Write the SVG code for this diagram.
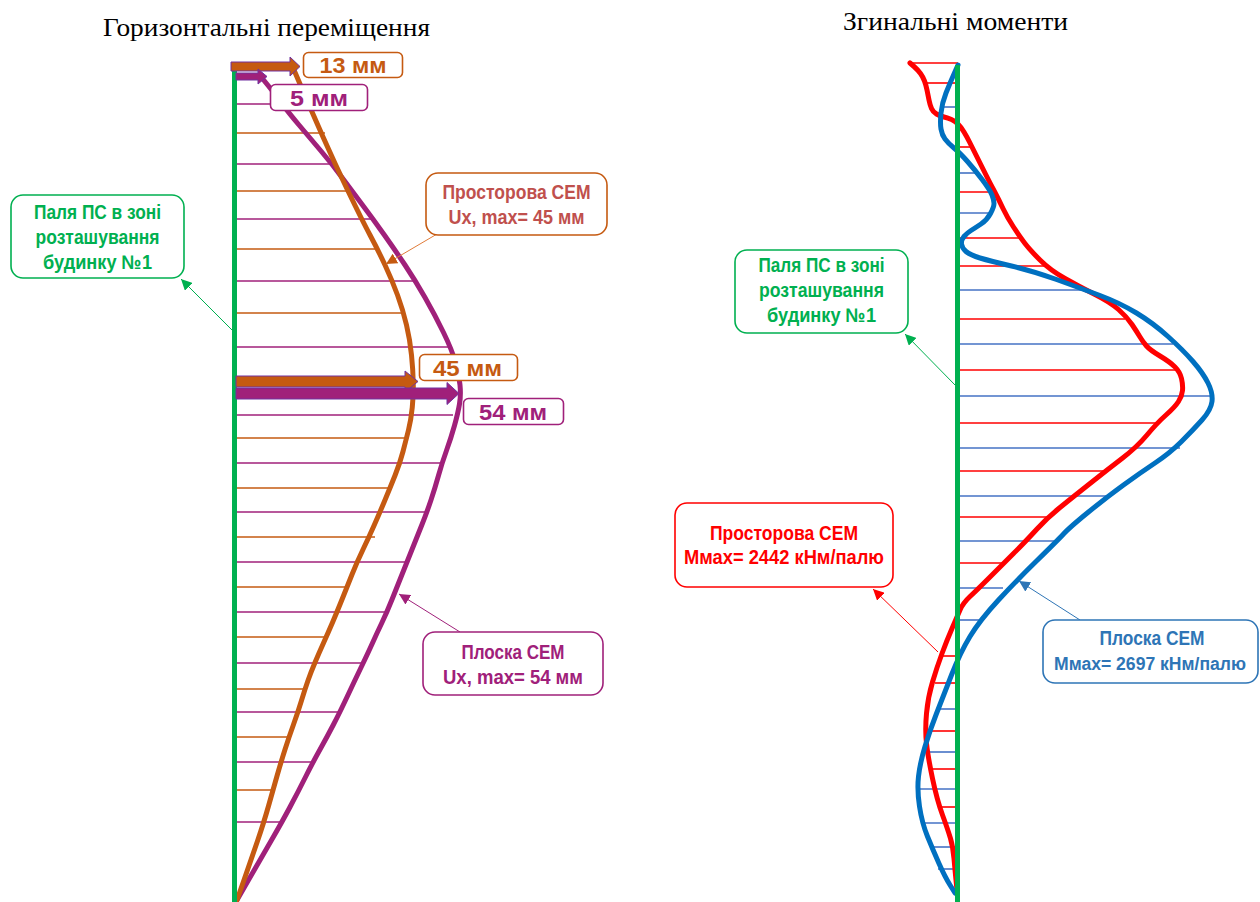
<svg xmlns="http://www.w3.org/2000/svg" width="1260" height="902" viewBox="0 0 1260 902">
<style>
.title{font-family:"Liberation Serif","Times New Roman",serif;font-size:25px;fill:#000}
.lbl{font-family:"Liberation Sans",Arial,sans-serif;font-weight:bold;font-size:19.5px;text-anchor:middle}
.val{font-family:"Liberation Sans",Arial,sans-serif;font-weight:bold;font-size:22px;text-anchor:middle}
.box{fill:#fff;stroke-width:1.6}
.pile{stroke:#00B050;stroke-width:5;fill:none}
.h{stroke-width:1.6;fill:none}
.ho{stroke:#C55A11}
.hp{stroke:#A0207A}
.hr{stroke:#FF0000}
.hb{stroke:#4472C4}
.crv{fill:none;stroke-width:5;stroke-linejoin:round;stroke-linecap:round}
.lead{fill:none;stroke-width:1}
</style>
<defs>
<marker id="aG" viewBox="0 0 10 10" refX="10" refY="5" markerWidth="11" markerHeight="11" markerUnits="userSpaceOnUse" orient="auto"><path d="M0,0 L10,5 L0,10 z" fill="#00B050"/></marker>
<marker id="aO" viewBox="0 0 10 10" refX="10" refY="5" markerWidth="11" markerHeight="11" markerUnits="userSpaceOnUse" orient="auto"><path d="M0,0 L10,5 L0,10 z" fill="#C55A11"/></marker>
<marker id="aP" viewBox="0 0 10 10" refX="10" refY="5" markerWidth="11" markerHeight="11" markerUnits="userSpaceOnUse" orient="auto"><path d="M0,0 L10,5 L0,10 z" fill="#A0207A"/></marker>
<marker id="aR" viewBox="0 0 10 10" refX="10" refY="5" markerWidth="11" markerHeight="11" markerUnits="userSpaceOnUse" orient="auto"><path d="M0,0 L10,5 L0,10 z" fill="#FF0000"/></marker>
<marker id="aB" viewBox="0 0 10 10" refX="10" refY="5" markerWidth="11" markerHeight="11" markerUnits="userSpaceOnUse" orient="auto"><path d="M0,0 L10,5 L0,10 z" fill="#2E75B6"/></marker>
</defs>
<rect width="1260" height="902" fill="#fff"/>

<text class="title" x="266.5" y="36" text-anchor="middle" textLength="327" lengthAdjust="spacingAndGlyphs">Горизонтальні переміщення</text>
<text class="title" x="955.5" y="30" text-anchor="middle" textLength="225" lengthAdjust="spacingAndGlyphs">Згинальні моменти</text>

<!-- LEFT: hatching -->
<g id="left-hatch" class="h">
<line class="hp" x1="234" y1="104" x2="270" y2="104"/>
<line class="ho" x1="234" y1="133" x2="325" y2="133"/>
<line class="hp" x1="234" y1="164" x2="332" y2="164"/>
<line class="ho" x1="234" y1="191" x2="348" y2="191"/>
<line class="hp" x1="234" y1="219" x2="373" y2="219"/>
<line class="ho" x1="234" y1="249" x2="377" y2="249"/>
<line class="hp" x1="234" y1="281" x2="415" y2="281"/>
<line class="ho" x1="234" y1="313" x2="403" y2="313"/>
<line class="hp" x1="234" y1="347" x2="448" y2="347"/>
<line class="hp" x1="234" y1="415" x2="453" y2="415"/>
<line class="ho" x1="234" y1="438" x2="407" y2="438"/>
<line class="hp" x1="234" y1="463" x2="442" y2="463"/>
<line class="ho" x1="234" y1="488" x2="388" y2="488"/>
<line class="hp" x1="234" y1="512" x2="427" y2="512"/>
<line class="ho" x1="234" y1="537" x2="375" y2="537"/>
<line class="hp" x1="234" y1="562" x2="407" y2="562"/>
<line class="ho" x1="234" y1="587" x2="347" y2="587"/>
<line class="hp" x1="234" y1="612" x2="387" y2="612"/>
<line class="ho" x1="234" y1="637" x2="325" y2="637"/>
<line class="hp" x1="234" y1="663" x2="363" y2="663"/>
<line class="ho" x1="234" y1="689" x2="305" y2="689"/>
<line class="hp" x1="234" y1="712" x2="340" y2="712"/>
<line class="ho" x1="234" y1="737" x2="288" y2="737"/>
<line class="hp" x1="234" y1="762" x2="313" y2="762"/>
<line class="ho" x1="234" y1="790" x2="273" y2="790"/>
<line class="hp" x1="234" y1="822" x2="282" y2="822"/>
</g>

<!-- LEFT curves -->
<g id="left-curves">
<path class="crv" stroke="#A0207A" d="M262,78 L268.5,86 Q275,94 281.5,103 Q288,112 299,125 Q310,138 321,151 Q332,164 342,177.5 Q352,191 362.5,205 Q373,219 384,234.5 Q395,250 405,265 Q415,280 425,297.5 Q435,315 443.5,332.5 Q452,350 455.5,362.5 Q459,375 460,385 Q461,395 459.5,404 Q458,413 454.5,425.5 Q451,438 446.5,450.5 Q442,463 438.5,475.5 Q435,488 431,500 Q427,512 422,524.5 Q417,537 412,549.5 Q407,562 402,574.5 Q397,587 392,599.5 Q387,612 382,622.5 Q377,633 372.5,643 Q368,653 361.5,666.5 Q355,680 347.5,696 Q340,712 333.5,724.5 Q327,737 320,749.5 Q313,762 305.5,777 Q298,792 290,807 Q282,822 271,841 Q260,860 248.5,880 L237,900"/>
<path class="crv" stroke="#C55A11" d="M294,70 L303,91 Q312,112 323.5,138 Q335,164 348.5,192 Q362,220 370,235 Q378,250 385,265 Q392,280 397.5,295 Q403,310 406.5,325 Q410,340 411.5,355 Q413,370 413.25,382.5 Q413.5,395 412.25,407.5 Q411,420 408.5,430 Q406,440 403,451.5 Q400,463 395,475.5 Q390,488 385,500 Q380,512 374.5,524.5 Q369,537 363,549.5 Q357,562 352,574.5 Q347,587 342,599.5 Q337,612 332.5,622.5 Q328,633 323.5,643 Q319,653 315,662.5 Q311,672 308,680.5 Q305,689 301.5,700.5 Q298,712 293.5,724.5 Q289,737 285,749.5 Q281,762 277,776 Q273,790 268.5,806 Q264,822 257.5,841 Q251,860 244,880 L237,900"/>
</g>

<line id="left-pile" class="pile" x1="234.5" y1="68" x2="234.5" y2="902"/>

<!-- LEFT value arrows -->
<g id="arrows-left" stroke="#7030A0" stroke-width="1" stroke-linejoin="miter">
<path d="M231,62 L290,62 L290,57 L300,66.5 L290,76 L290,71 L231,71 z" fill="#C55A11"/>
<path d="M236,73 L258,73 L258,69 L267,76.5 L258,84 L258,80 L236,80 z" fill="#A0207A"/>
<path d="M236,376 L405,376 L405,371 L418,381.5 L405,392 L405,387 L236,387 z" fill="#C55A11"/>
<path d="M236,388 L447,388 L447,382.5 L459,393.5 L447,404.5 L447,399 L236,399 z" fill="#A0207A"/>
</g>

<!-- RIGHT hatching -->
<g id="right-hatch" class="h">
<line class="hr" x1="910" y1="63" x2="958" y2="63"/>
<line class="hr" x1="927" y1="83" x2="958" y2="83"/>
<line class="hb" x1="940" y1="107" x2="958" y2="107"/>
<line class="hr" x1="958" y1="147" x2="972" y2="147"/>
<line class="hb" x1="958" y1="173" x2="977" y2="173"/>
<line class="hr" x1="958" y1="192" x2="995" y2="192"/>
<line class="hb" x1="958" y1="213" x2="992" y2="213"/>
<line class="hr" x1="958" y1="238" x2="1020" y2="238"/>
<line class="hr" x1="958" y1="266" x2="1045" y2="266"/>
<line class="hb" x1="958" y1="290" x2="1083" y2="290"/>
<line class="hr" x1="958" y1="319" x2="1125" y2="319"/>
<line class="hb" x1="958" y1="344" x2="1173" y2="344"/>
<line class="hr" x1="958" y1="370" x2="1178" y2="370"/>
<line class="hb" x1="958" y1="396" x2="1213" y2="396"/>
<line class="hr" x1="958" y1="423" x2="1157" y2="423"/>
<line class="hb" x1="958" y1="448" x2="1180" y2="448"/>
<line class="hr" x1="958" y1="471" x2="1107" y2="471"/>
<line class="hb" x1="958" y1="496" x2="1110" y2="496"/>
<line class="hr" x1="958" y1="517" x2="1047" y2="517"/>
<line class="hb" x1="958" y1="541" x2="1057" y2="541"/>
<line class="hr" x1="958" y1="563" x2="1002" y2="563"/>
<line class="hb" x1="958" y1="588" x2="1003" y2="588"/>
<line class="hb" x1="958" y1="620" x2="982" y2="620"/>
<line class="hr" x1="943" y1="656" x2="958" y2="656"/>
<line class="hr" x1="935" y1="683" x2="958" y2="683"/>
<line class="hb" x1="940" y1="709" x2="958" y2="709"/>
<line class="hr" x1="927" y1="731" x2="958" y2="731"/>
<line class="hb" x1="927" y1="752" x2="958" y2="752"/>
<line class="hr" x1="932" y1="769" x2="958" y2="769"/>
<line class="hb" x1="920" y1="789" x2="958" y2="789"/>
<line class="hr" x1="942" y1="807" x2="958" y2="807"/>
<line class="hb" x1="923" y1="823" x2="958" y2="823"/>
<line class="hb" x1="932" y1="847" x2="958" y2="847"/>
<line class="hb" x1="938" y1="869" x2="958" y2="869"/>
</g>

<!-- RIGHT curves -->
<g id="right-curves">
<path class="crv" stroke="#FF0000" d="M910,63 L914,66.5 Q918,70 920.5,73.5 Q923,77 924.5,81 Q926,85 927,90 Q928,95 929,100 Q930,105 931.5,108.5 Q933,112 936.5,114 Q940,116 944,117 Q948,118 951.5,119.5 Q955,121 958,124 Q961,127 964,132 Q967,137 969.5,142 Q972,147 976.5,156 Q981,165 985.5,174 Q990,183 994.5,191.5 Q999,200 1003,208.5 Q1007,217 1013.5,227 Q1020,237 1025,243.5 Q1030,250 1040,260 Q1050,270 1065,278.5 Q1080,287 1095,294.5 Q1110,302 1118.5,309.5 Q1127,317 1132,324.5 Q1137,332 1140,337 Q1143,342 1146.5,346 Q1150,350 1160,356 Q1170,362 1175,367 Q1180,372 1181.5,378.5 Q1183,385 1182.5,390.5 Q1182,396 1178.5,401.5 Q1175,407 1166,415 Q1157,423 1147,435 Q1137,447 1122,458.5 Q1107,470 1090,483.5 Q1073,497 1060,507.5 Q1047,518 1037,529 Q1027,540 1013.5,553.5 Q1000,567 988.5,578.5 Q977,590 970,596.5 Q963,603 960,610 Q957,617 952,628.5 Q947,640 942,653.5 Q937,667 932.5,682 Q928,697 926.5,713.5 Q925,730 926.5,743.5 Q928,757 932.5,778.5 Q937,800 942.5,815 Q948,830 950.5,838.5 Q953,847 954,858.5 Q955,870 956,880 L957,890"/>
<path class="crv" stroke="#0070C0" d="M958,65 L954,74 Q950,83 946,93 Q942,103 941,113 Q940,123 941,129 Q942,135 945,139 Q948,143 954,148 Q960,153 967.5,161.5 Q975,170 982.5,180 Q990,190 992,195 Q994,200 994,203.5 Q994,207 990.5,213.5 Q987,220 981,224 Q975,228 971,230.5 Q967,233 964,236.5 Q961,240 961.5,244 Q962,248 966,251.5 Q970,255 980,258 Q990,261 1011.5,266 Q1033,271 1056.5,279.5 Q1080,288 1100,295.5 Q1120,303 1136.5,313 Q1153,323 1168,336.5 Q1183,350 1193,361.5 Q1203,373 1208,383 Q1213,393 1212,401.5 Q1211,410 1202,420 Q1193,430 1181.5,441.5 Q1170,453 1155,463 Q1140,473 1123.5,485 Q1107,497 1088.5,512 Q1070,527 1063.5,534 Q1057,541 1037,560.5 Q1017,580 998.5,600 Q980,620 970,636.5 Q960,653 951.5,675 Q943,697 936.5,713.5 Q930,730 925,746.5 Q920,763 918.5,776.5 Q917,790 919.5,806.5 Q922,823 927.5,836.5 Q933,850 939,863.5 Q945,877 950,885 L955,893"/>
</g>

<line id="right-pile" class="pile" x1="957.5" y1="65" x2="957.5" y2="902"/>

<!-- connectors -->
<g id="connectors" class="lead">
<line x1="232" y1="330" x2="181" y2="279" stroke="#00B050" marker-end="url(#aG)"/>
<line x1="437" y1="234" x2="386" y2="264" stroke="#E07B39" marker-end="url(#aO)"/>
<line x1="460" y1="632" x2="399" y2="594" stroke="#A0207A" marker-end="url(#aP)"/>
<line x1="956" y1="386" x2="905" y2="334" stroke="#00B050" marker-end="url(#aG)"/>
<line x1="938" y1="652" x2="873" y2="589" stroke="#FF0000" marker-end="url(#aR)"/>
<line x1="1080" y1="620" x2="1019" y2="581" stroke="#2E75B6" marker-end="url(#aB)"/>
</g>

<!-- value labels -->
<g id="lbl-13">
<rect class="box" x="303.5" y="52.5" width="99" height="25" rx="5" stroke="#C55A11"/>
<text class="val" x="353" y="72.5" fill="#C55A11" textLength="67" lengthAdjust="spacingAndGlyphs">13 мм</text>
</g>
<g id="lbl-5">
<rect class="box" x="270.5" y="84.5" width="97" height="26" rx="5" stroke="#A0207A"/>
<text class="val" x="319" y="105.5" fill="#A0207A" textLength="58" lengthAdjust="spacingAndGlyphs">5 мм</text>
</g>
<g id="lbl-45">
<rect class="box" x="419.5" y="354.5" width="98" height="26" rx="5" stroke="#C55A11"/>
<text class="val" x="467.5" y="375.5" fill="#C55A11" textLength="69" lengthAdjust="spacingAndGlyphs">45 мм</text>
</g>
<g id="lbl-54">
<rect class="box" x="463.5" y="398.5" width="100" height="26" rx="5" stroke="#A0207A"/>
<text class="val" x="513" y="419.5" fill="#A0207A" textLength="68" lengthAdjust="spacingAndGlyphs">54 мм</text>
</g>

<!-- text boxes -->
<g id="pile-left">
<rect class="box" x="11" y="195" width="173" height="83" rx="12" stroke="#00B050"/>
<text class="lbl" fill="#00B050"><tspan x="97.5" y="219" textLength="127" lengthAdjust="spacingAndGlyphs">Паля ПС в зоні</tspan><tspan x="97.5" y="244" textLength="124" lengthAdjust="spacingAndGlyphs">розташування</tspan><tspan x="97.5" y="269" textLength="109" lengthAdjust="spacingAndGlyphs">будинку №1</tspan></text>
</g>
<g id="spatial-left">
<rect class="box" x="426" y="173" width="181" height="62" rx="12" stroke="#C55A11"/>
<text class="lbl" fill="#C0504D"><tspan x="516.5" y="199" textLength="148" lengthAdjust="spacingAndGlyphs">Просторова СЕМ</tspan><tspan x="516.5" y="224" textLength="136" lengthAdjust="spacingAndGlyphs">Ux, max= 45 мм</tspan></text>
</g>
<g id="flat-left">
<rect class="box" x="423" y="632" width="180" height="63" rx="12" stroke="#A0207A"/>
<text class="lbl" fill="#A0207A"><tspan x="513" y="659" textLength="103" lengthAdjust="spacingAndGlyphs">Плоска СЕМ</tspan><tspan x="513" y="684" textLength="140" lengthAdjust="spacingAndGlyphs">Ux, max= 54 мм</tspan></text>
</g>
<g id="pile-right">
<rect class="box" x="735" y="250" width="173" height="83" rx="12" stroke="#00B050"/>
<text class="lbl" fill="#00B050"><tspan x="821.5" y="272" textLength="126" lengthAdjust="spacingAndGlyphs">Паля ПС в зоні</tspan><tspan x="821.5" y="297" textLength="125" lengthAdjust="spacingAndGlyphs">розташування</tspan><tspan x="821.5" y="322" textLength="109" lengthAdjust="spacingAndGlyphs">будинку №1</tspan></text>
</g>
<g id="spatial-right">
<rect class="box" x="675" y="503" width="218" height="84" rx="12" stroke="#FF0000"/>
<text class="lbl" fill="#FF0000"><tspan x="784" y="540" textLength="148" lengthAdjust="spacingAndGlyphs">Просторова СЕМ</tspan><tspan x="784" y="564" textLength="200" lengthAdjust="spacingAndGlyphs">Mмах= 2442 кНм/палю</tspan></text>
</g>
<g id="flat-right">
<rect class="box" x="1043" y="620" width="215" height="63" rx="12" stroke="#2E75B6"/>
<text class="lbl" fill="#2E75B6"><tspan x="1152" y="645" textLength="105" lengthAdjust="spacingAndGlyphs">Плоска СЕМ</tspan><tspan x="1150" y="670" font-size="17.5" textLength="192" lengthAdjust="spacingAndGlyphs">Mмах= 2697 кНм/палю</tspan></text>
</g>
</svg>
